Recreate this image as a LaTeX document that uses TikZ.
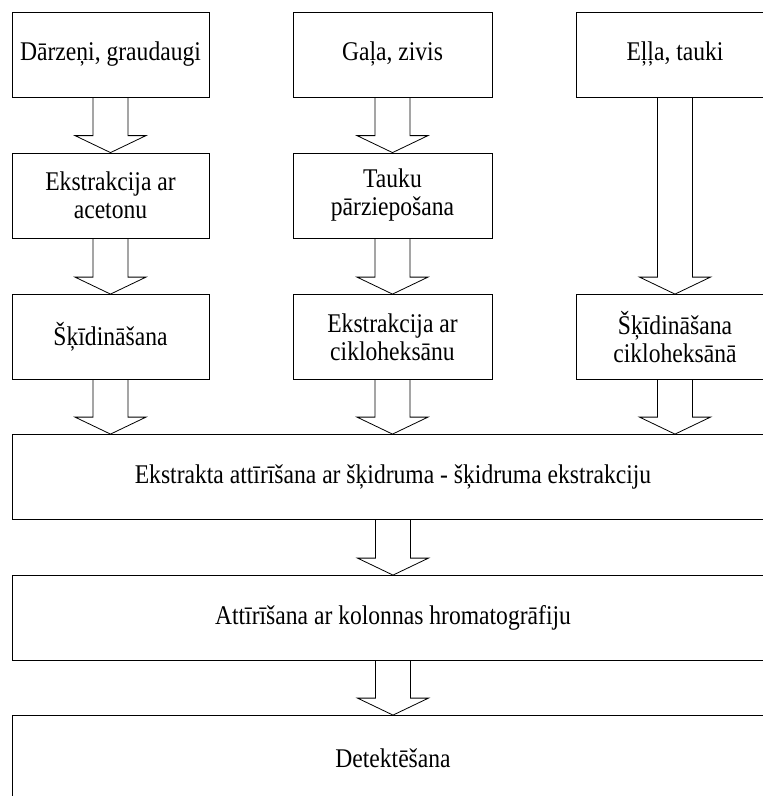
\documentclass[tikz,border=0pt]{standalone}
\usepackage{fontspec}
\setmainfont{Liberation Serif}
\newfontfamily\diagfont{Liberation Serif}[FakeStretch=0.874]
\usetikzlibrary{calc}
\begin{document}
\begin{tikzpicture}[x=1pt,y=-1pt,
  box/.style={draw=black, line width=0.8pt, rectangle, minimum height=85pt,
    inner sep=0pt, align=center, font=\diagfont\fontsize{27}{28}\selectfont},
  colbox/.style={box, minimum width=198pt},
  widebox/.style={box, minimum width=762pt},
  blockarrow/.style={draw=black, line width=0.8pt, to path={
    let \p1=(\tikztostart), \p2=(\tikztotarget) in
    (\x1-17.5pt,\y1) -- (\x1-17.5pt,\y2+17pt) -- (\x1-35.5pt,\y2+17pt)
    -- (\x1,\y2) -- (\x1+35.5pt,\y2+17pt) -- (\x1+17.5pt,\y2+17pt)
    -- (\x1+17.5pt,\y1)}}
]
\useasboundingbox (0,0) rectangle (763,796);
\clip (0,0) rectangle (763,796);

% column 1
\node[colbox, minimum width=197pt] (a1) at (110.5,54.5) {Dārzeņi, graudaugi};
\node[colbox, minimum width=197pt] (a2) at (110.5,195.5) {Ekstrakcija ar\\acetonu};
\node[colbox, minimum width=197pt] (a3) at (110.5,337) {Šķīdināšana};
% column 2
\node[colbox, minimum width=199pt] (b1) at (392.5,54.5) {Gaļa, zivis};
\node[colbox, minimum width=199pt] (b2) at (392.5,195.5) {Tauku\\pārziepošana};
\node[colbox, minimum width=199pt] (b3) at (392.5,337) {Ekstrakcija ar\\cikloheksānu};
% column 3
\node[colbox] (c1) at (675,54.5) {Eļļa, tauki};
\node[colbox] (c3) at (675,337) {Šķīdināšana\\cikloheksānā};
% wide boxes
\node[widebox] (d) at (393,477) {Ekstrakta attīrīšana ar šķidruma - šķidruma ekstrakciju};
\node[widebox] (e) at (393,618) {Attīrīšana ar kolonnas hromatogrāfiju};
\node[widebox] (f) at (393,758) {Detektēšana};

% arrows
\draw[blockarrow] (a1.south) to (a2.north);
\draw[blockarrow] (a2.south) to (a3.north);
\draw[blockarrow] (a3.south) to (d.north);
\draw[blockarrow] (b1.south) to (b2.north);
\draw[blockarrow] (b2.south) to (b3.north);
\draw[blockarrow] (b3.south) to (d.north);
\draw[blockarrow] (c1.south) to (c3.north);
\draw[blockarrow] (c3.south) to (d.north);
\draw[blockarrow] (d.south) to (e.north);
\draw[blockarrow] (e.south) to (f.north);
\end{tikzpicture}
\end{document}
